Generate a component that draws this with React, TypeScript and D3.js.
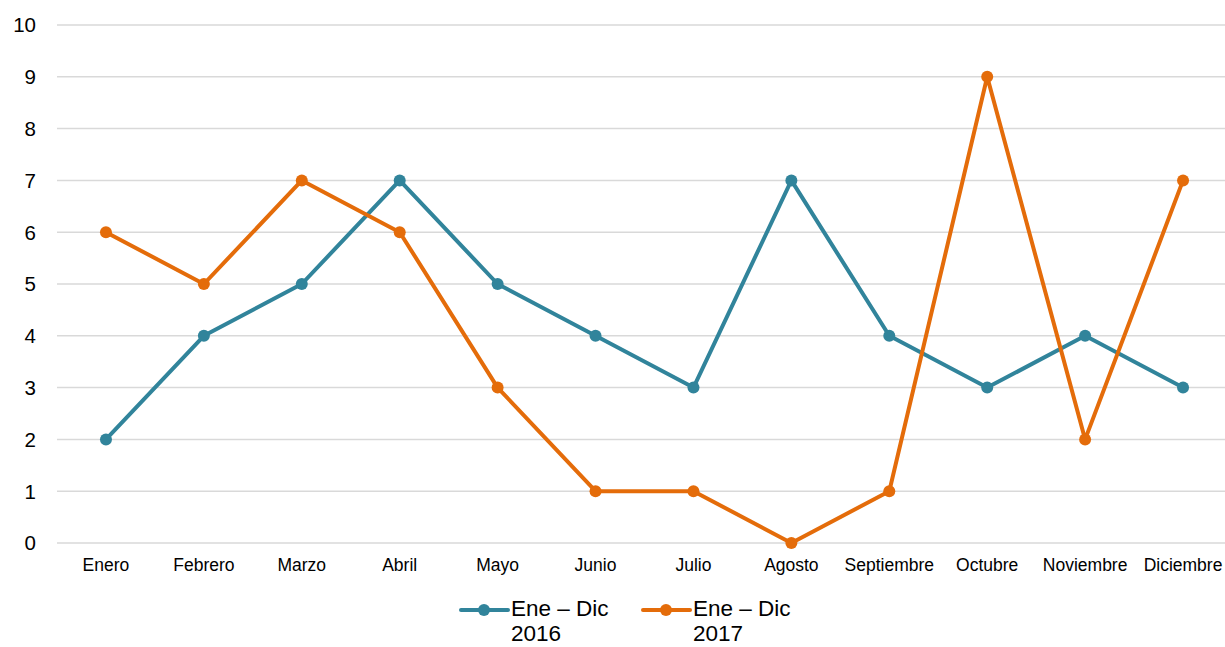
import React from "react";
import * as d3 from "d3";

const categories = ["Enero","Febrero","Marzo","Abril","Mayo","Junio","Julio","Agosto","Septiembre","Octubre","Noviembre","Diciembre"];
const series2016 = [2,4,5,7,5,4,3,7,4,3,4,3];
const series2017 = [6,5,7,6,3,1,1,0,1,9,2,7];
const yTicks = [0,1,2,3,4,5,6,7,8,9,10];
const seriesNames = [["Ene – Dic", "2016"], ["Ene – Dic", "2017"]];
const colors = ["#31849B", "#E46C0A"];

export default function App() {
  const W = 1225, H = 647;
  const x = d3.scaleBand<string>().domain(categories).range([57, 1232]);
  const y = d3.scaleLinear().domain([0, 10]).range([543, 25]);
  const cx = (c: string) => (x(c) as number) + x.bandwidth() / 2;
  const line = d3.line<number>().x((_, i) => cx(categories[i])).y((d) => y(d));
  const all = [series2016, series2017];
  const font = "Liberation Sans, Arial, sans-serif";
  return (
    <svg width={W} height={H} style={{ position: "fixed", left: 0, top: 0, background: "#fff" }} fontFamily={font}>
      {yTicks.map((t) => (
        <g key={t}>
          <line x1={57} x2={W} y1={y(t)} y2={y(t)} stroke="#D9D9D9" strokeWidth={1.5} />
          <text x={36} y={y(t)} dy="0.36em" textAnchor="end" fontSize={20.5} fill="#000">{t}</text>
        </g>
      ))}
      {categories.map((c) => (
        <text key={c} x={cx(c)} y={571} textAnchor="middle" fontSize={17.5} fill="#000">{c}</text>
      ))}
      {all.map((s, k) => (
        <g key={k}>
          <path d={line(s) || ""} fill="none" stroke={colors[k]} strokeWidth={4} strokeLinejoin="round" />
          {s.map((v, i) => (
            <circle key={i} cx={cx(categories[i])} cy={y(v)} r={6} fill={colors[k]} />
          ))}
        </g>
      ))}
      {seriesNames.map((n, k) => {
        const lx = 461 + k * 182;
        return (
          <g key={k}>
            <line x1={lx} x2={lx + 47} y1={610} y2={610} stroke={colors[k]} strokeWidth={4} strokeLinecap="round" />
            <circle cx={lx + 23} cy={610} r={6} fill={colors[k]} />
            <text x={lx + 50} y={616} fontSize={22.5} fill="#000">{n[0]}</text>
            <text x={lx + 50} y={641} fontSize={22.5} fill="#000">{n[1]}</text>
          </g>
        );
      })}
    </svg>
  );
}
